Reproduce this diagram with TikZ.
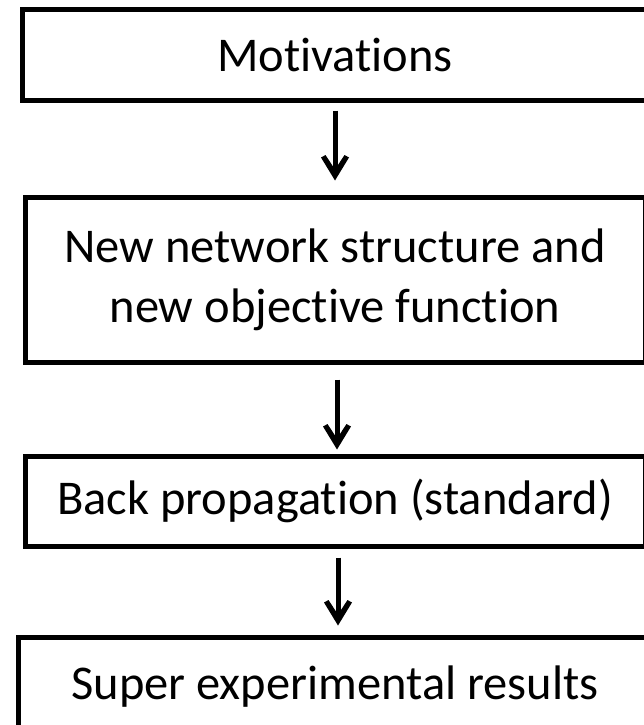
\documentclass[tikz,border=0pt]{standalone}
\usepackage{fontspec}
\setmainfont{Carlito}[Ligatures=CommonOff]
\begin{document}
\begin{tikzpicture}[x=1pt,y=1pt,
  box/.style={draw=black, line width=5pt, rectangle, align=center,
    font=\fontsize{48.5}{60}\selectfont, inner sep=0pt},
  shaft/.style={draw=black, line width=5pt},
  chev/.style={fill=black}]
\useasboundingbox (0,0) rectangle (643,-725);
\fill[white] (0,0) rectangle (643,-725);
\node[box, minimum width=626pt, minimum height=90pt] (b1) at (335,-55) {Motivations};
\node[box, minimum width=620pt, minimum height=165pt] (b2) at (335,-279.5) {New network structure and\\new objective function};
\node[box, minimum width=620pt, minimum height=90pt] (b3) at (335,-501) {Back propagation (standard)};
\node[box, minimum width=634pt, minimum height=100pt] (b4) at (335,-687) {Super experimental results};
\coordinate (s1) at ([yshift=-8pt]b1.south);
\coordinate (t1) at ([yshift=14pt]b2.north);
\coordinate (s2) at ([yshift=-15pt,xshift=2pt]b2.south);
\coordinate (t2) at ([yshift=4pt,xshift=2pt]b3.north);
\coordinate (s3) at ([yshift=-9pt,xshift=3pt]b3.south);
\coordinate (t3) at ([yshift=9pt,xshift=3pt]b4.north);
\foreach \s/\t in {s1/t1, s2/t2, s3/t3}{
  \draw[shaft] (\s) -- ([yshift=10pt]\t);
  \fill[chev] (\t) -- ++(-14,23) -- ++(4.5,2.5) -- ([yshift=11pt]\t) -- ++(9.5,14.5) -- ++(4.5,-2.5) -- cycle;
}
\end{tikzpicture}
\end{document}
